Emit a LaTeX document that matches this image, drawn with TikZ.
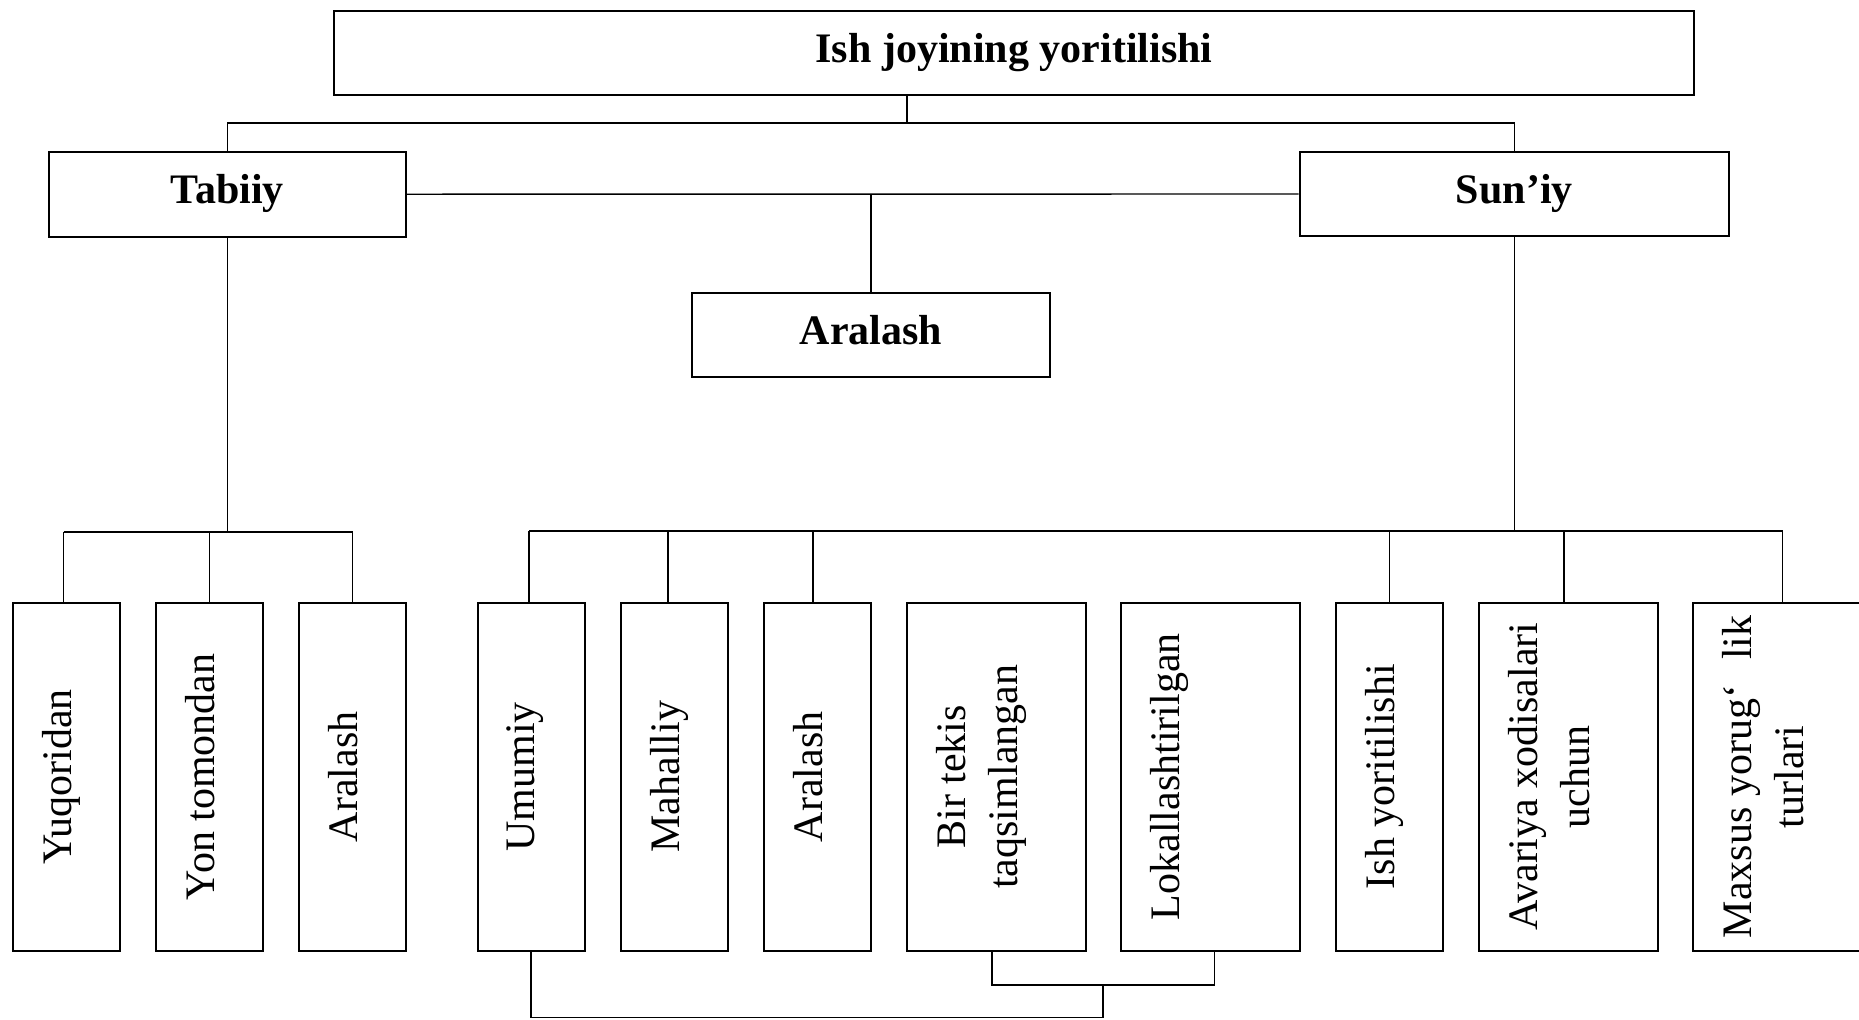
\documentclass[tikz,border=0pt]{standalone}
\usepackage{fontspec}
\setmainfont{Liberation Serif}
\begin{document}
\begin{tikzpicture}[x=0.5pt,y=-0.5pt,
  box/.style={draw, line width=1pt, rectangle, inner sep=0pt},
  hbox/.style={box, font=\fontsize{21}{26}\selectfont\bfseries, text height=14pt, text depth=4.5pt},
  vbox/.style={box, minimum height=174pt},
  narrow/.style={vbox, minimum width=53.5pt},
  wide/.style={vbox, minimum width=89.5pt},
  vlab/.style={rotate=90, anchor=north, inner sep=0pt, align=center, font=\fontsize{21}{26}\selectfont},
  conn/.style={line width=0.7pt},
  bus/.style={line width=1pt}]
\useasboundingbox (0,0) rectangle (1859,1019);
\fill[white] (0,0) rectangle (1859,1019);

% upper level
\node[hbox, minimum width=680pt, minimum height=42.15pt] (top) at (1014,52.85) {Ish joyining yoritilishi};
\node[hbox, minimum width=178.7pt, minimum height=42.5pt] (tab) at (227.3,194.2) {Tabiiy};
\node[hbox, minimum width=214.65pt, minimum height=42.3pt] (sun) at (1514.35,194) {Sun’iy};
\node[hbox, minimum width=179pt, minimum height=42.3pt] (mix) at (871,335) {Aralash};

% lower boxes
\node[narrow] (yuq) at (66.5,776.7) {};
\node[narrow] (yon) at (209.5,776.7) {};
\node[narrow] (ar1) at (352.5,776.7) {};
\node[narrow] (umu) at (531,776.7) {};
\node[narrow] (mah) at (674,776.7) {};
\node[narrow] (ar2) at (817,776.7) {};
\node[wide]   (bir) at (996,776.7) {};
\node[wide]   (lok) at (1210.5,776.7) {};
\node[narrow] (ish) at (1389.5,776.7) {};
\node[wide]   (ava) at (1568,776.7) {};
\node[wide]   (max) at (1782.5,776.7) {};

% labels
\node[vlab] (yuq-t) at ([xshift=15pt]yuq.west) {Yuqoridan};
\node[vlab] (yon-t) at ([xshift=15pt]yon.west) {Yon tomondan};
\node[vlab] (ar1-t) at ([xshift=15pt]ar1.west) {Aralash};
\node[vlab] (umu-t) at ([xshift=15pt]umu.west) {Umumiy};
\node[vlab] (mah-t) at ([xshift=15pt]mah.west) {Mahalliy};
\node[vlab] (ar2-t) at ([xshift=15pt]ar2.west) {Aralash};
\node[vlab] (bir-t) at ([xshift=15pt]bir.west) {Bir tekis\\taqsimlangan};
\node[vlab] (lok-t) at ([xshift=15pt]lok.west) {Lokallashtirilgan};
\node[vlab] (ish-t) at ([xshift=15pt]ish.west) {Ish yoritilishi};
\node[vlab] (ava-t) at ([xshift=15pt]ava.west) {Avariya xodisalari\\uchun};
\node[vlab] (max-t) at ([xshift=15pt]max.west) {Maxsus yorug‘\hspace{0.6em}lik\\turlari};

% coordinates
\coordinate (hub) at (907,123);
\coordinate (lbus) at (0,532);
\coordinate (rbus) at (0,531);
\coordinate (j1) at (1103,1017.5);
\coordinate (j2) at (1103,985);

% top connectors
\draw[conn] (top.south -| hub) -- (hub);
\draw[conn] (tab.north) |- (hub) -| (sun.north);
\draw[conn] (tab.east) -- (sun.west);
\draw[conn] (mix.north) -- (mix.north |- tab.east);

% left branch
\draw[conn] (tab.south) -- (tab.south |- lbus);
\draw[bus] ([xshift=-1.5pt]yuq.north |- lbus) -- (ar1.north |- lbus);
\draw[conn] ([xshift=-1.5pt]yuq.north) -- ([xshift=-1.5pt]yuq.north |- lbus);
\draw[conn] (yon.north) -- (yon.north |- lbus);
\draw[conn] (ar1.north) -- (ar1.north |- lbus);

% right branch
\draw[conn] (sun.south) -- (sun.south |- rbus);
\draw[bus] ([xshift=-1pt]umu.north |- rbus) -- (max.north |- rbus);
\draw[conn] ([xshift=-1pt]umu.north) -- ([xshift=-1pt]umu.north |- rbus);
\draw[conn] ([xshift=-3pt]mah.north) -- ([xshift=-3pt]mah.north |- rbus);
\draw[conn] ([xshift=-2pt]ar2.north) -- ([xshift=-2pt]ar2.north |- rbus);
\draw[conn] (ish.north) -- (ish.north |- rbus);
\draw[conn] ([xshift=-2pt]ava.north) -- ([xshift=-2pt]ava.north |- rbus);
\draw[conn] (max.north) -- (max.north |- rbus);

% bottom connectors
\draw[conn] (umu.south) |- (j1) -- (j2);
\draw[conn] ([xshift=-2pt]bir.south) |- ([xshift=2pt]lok.south |- j2) -- ([xshift=2pt]lok.south);
\end{tikzpicture}
\end{document}
